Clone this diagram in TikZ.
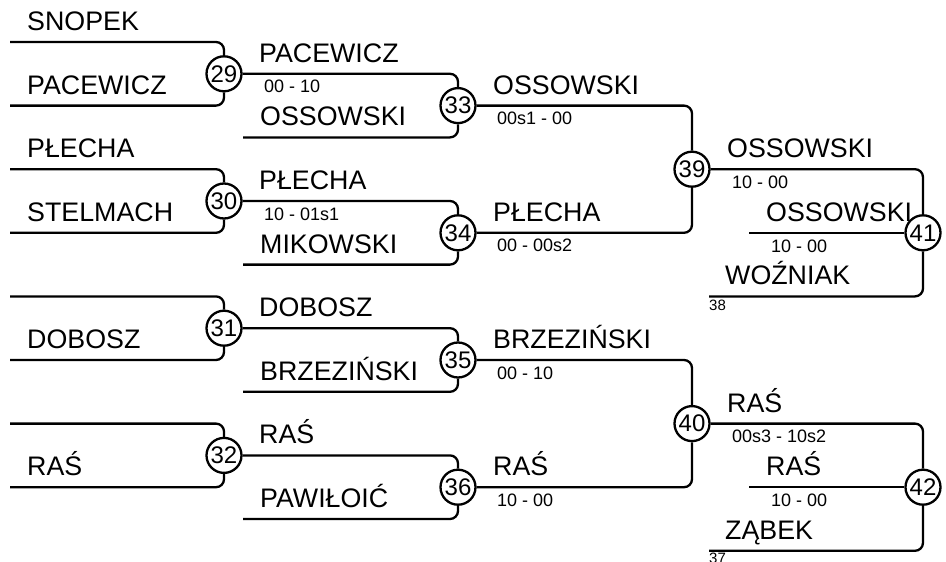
\documentclass[tikz,border=0pt]{standalone}
\usepackage{fontspec}
\setmainfont{Liberation Sans}
\begin{document}
\begin{tikzpicture}[x=1pt,y=-1pt,
  ln/.style={line width=2.3pt, rounded corners=8pt},
  num/.style={circle, draw, line width=2.3pt, fill=white, inner sep=0pt, minimum size=35pt, font=\fontsize{24}{26}\selectfont},
  lbl/.style={anchor=base west, inner sep=0pt, font=\fontsize{26.8}{30}\selectfont},
  score/.style={anchor=base west, inner sep=0pt, font=\fontsize{18}{20}\selectfont},
  tiny/.style={anchor=base west, inner sep=0pt, font=\fontsize{15}{17}\selectfont}]
\useasboundingbox (0,0) rectangle (946,562);

% circles
\node[num] (c29) at (224,73.8) {29};
\node[num] (c30) at (224,201) {30};
\node[num] (c31) at (224,328.2) {31};
\node[num] (c32) at (224,455.4) {32};
\node[num] (c33) at (458,105.6) {33};
\node[num] (c34) at (458,232.8) {34};
\node[num] (c35) at (458,360) {35};
\node[num] (c36) at (458,487.2) {36};
\node[num] (c39) at (692,169.2) {39};
\node[num] (c40) at (692,423.6) {40};
\node[num] (c41) at (923,232.8) {41};
\node[num] (c42) at (923,487.2) {42};

% free ends
\coordinate (a1) at (10,42);
\coordinate (a2) at (10,105.6);
\coordinate (a3) at (10,169.2);
\coordinate (a4) at (10,232.8);
\coordinate (a5) at (10,296.4);
\coordinate (a6) at (10,360);
\coordinate (a7) at (10,423.6);
\coordinate (a8) at (10,487.2);
\coordinate (b1) at (243,137.4);
\coordinate (b2) at (243,264.6);
\coordinate (b3) at (243,391.8);
\coordinate (b4) at (243,519);
\coordinate (d1) at (749,232.8);
\coordinate (e1) at (709,296.4);
\coordinate (d2) at (749,487.2);
\coordinate (e2) at (709,550.8);

% round 1
\draw[ln] (a1) -| (c29);
\draw[ln] (a2) -| (c29);
\draw[ln] (a3) -| (c30);
\draw[ln] (a4) -| (c30);
\draw[ln] (a5) -| (c31);
\draw[ln] (a6) -| (c31);
\draw[ln] (a7) -| (c32);
\draw[ln] (a8) -| (c32);
% round 2
\draw[ln] (c29) -| (c33);
\draw[ln] (b1) -| (c33);
\draw[ln] (c30) -| (c34);
\draw[ln] (b2) -| (c34);
\draw[ln] (c31) -| (c35);
\draw[ln] (b3) -| (c35);
\draw[ln] (c32) -| (c36);
\draw[ln] (b4) -| (c36);
% round 3
\draw[ln] (c33) -| (c39);
\draw[ln] (c34) -| (c39);
\draw[ln] (c35) -| (c40);
\draw[ln] (c36) -| (c40);
% round 4
\draw[ln] (c39) -| (c41);
\draw[ln] (d1) -- (c41);
\draw[ln] (e1) -| (c41);
\draw[ln] (c40) -| (c42);
\draw[ln] (d2) -- (c42);
\draw[ln] (e2) -| (c42);

% labels round 1
\node[lbl] (l1) at (27,30.5) {SNOPEK};
\node[lbl] (l2) at (27,94.1) {PACEWICZ};
\node[lbl] (l3) at (27,157.7) {PŁECHA};
\node[lbl] (l4) at (27,221.3) {STELMACH};
\node[lbl] (l6) at (27,348.5) {DOBOSZ};
\node[lbl] (l8) at (27,475.7) {RAŚ};
% round 2
\node[lbl] (m1) at (259,62.3) {PACEWICZ};
\node[score] (s1) at (264,92.8) {00 - 10};
\node[lbl] (m2) at (260,125.9) {OSSOWSKI};
\node[lbl] (m3) at (259,189.5) {PŁECHA};
\node[score] (s2) at (264,220) {10 - 01s1};
\node[lbl] (m4) at (260,253.1) {MIKOWSKI};
\node[lbl] (m5) at (259,316.7) {DOBOSZ};
\node[lbl] (m6) at (260,380.3) {BRZEZIŃSKI};
\node[lbl] (m7) at (259,443.9) {RAŚ};
\node[lbl] (m8) at (260,507.5) {PAWIŁOIĆ};
% round 3
\node[lbl] (n1) at (493,94.1) {OSSOWSKI};
\node[score] (t1) at (497,124.6) {00s1 - 00};
\node[lbl] (n2) at (493,221.3) {PŁECHA};
\node[score] (t2) at (497,251.8) {00 - 00s2};
\node[lbl] (n3) at (493,348.5) {BRZEZIŃSKI};
\node[score] (t3) at (497,379) {00 - 10};
\node[lbl] (n4) at (493,475.7) {RAŚ};
\node[score] (t4) at (497,506.2) {10 - 00};
% round 4
\node[lbl] (p1) at (727,157.7) {OSSOWSKI};
\node[score] (u1) at (732,188.2) {10 - 00};
\node[lbl] (p2) at (766,221.3) {OSSOWSKI};
\node[score] (u2) at (771,252.3) {10 - 00};
\node[lbl] (p3) at (725,284.9) {WOŹNIAK};
\node[tiny] (v1) at (709,310.5) {38};
\node[lbl] (p4) at (727,412.1) {RAŚ};
\node[score] (u3) at (732,442.6) {00s3 - 10s2};
\node[lbl] (p5) at (766,475.7) {RAŚ};
\node[score] (u4) at (771,506.7) {10 - 00};
\node[lbl] (p6) at (725,539.3) {ZĄBEK};
\node[tiny] (v2) at (709,563) {37};
\end{tikzpicture}
\end{document}
